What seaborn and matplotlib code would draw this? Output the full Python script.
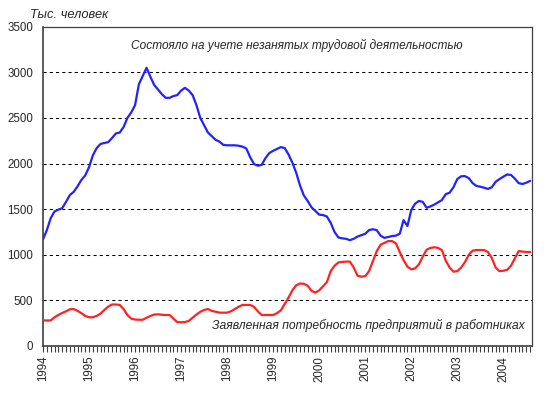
import numpy as np
import pandas as pd
import matplotlib
matplotlib.use("Agg")
import matplotlib.pyplot as plt
import seaborn as sns

years = list(range(1994, 2005))

unemployed = [
    1170, 1270, 1400, 1475, 1495, 1510, 1580, 1655, 1690, 1750, 1820, 1870,
    1960, 2090, 2170, 2215, 2225, 2235, 2280, 2330, 2340, 2400, 2500, 2560,
    2640, 2870, 2960, 3050, 2950, 2860, 2810, 2760, 2720, 2720, 2740, 2750,
    2800, 2830, 2800, 2750, 2640, 2500, 2420, 2340, 2300, 2260, 2240, 2205,
    2200, 2200, 2200, 2195, 2185, 2165, 2070, 1995, 1976, 1985, 2060, 2115,
    2140, 2160, 2180, 2170, 2100, 2010, 1900, 1760, 1650, 1590, 1520, 1480,
    1440, 1435, 1420, 1350, 1250, 1190, 1180, 1175, 1160, 1175, 1200, 1215,
    1230, 1270, 1280, 1270, 1210, 1185, 1195, 1205, 1210, 1230, 1380, 1315,
    1490, 1560, 1590, 1580, 1515, 1530, 1550, 1575, 1600, 1665, 1680, 1740,
    1830, 1860, 1862, 1840, 1785, 1755, 1746, 1735, 1722, 1740, 1800, 1830,
    1856, 1880, 1875, 1835, 1785, 1776, 1790, 1810,
]

vacancies = [
    280, 280, 280, 315, 340, 362, 380, 402, 405, 385, 360, 330,
    315, 315, 330, 355, 395, 432, 455, 455, 450, 405, 340, 300,
    290, 288, 288, 310, 330, 345, 347, 342, 340, 340, 300, 262,
    260, 262, 275, 310, 345, 375, 395, 405, 385, 375, 366, 365,
    366, 380, 405, 430, 450, 450, 450, 430, 380, 340, 340, 340,
    340, 360, 390, 460, 530, 610, 665, 685, 682, 660, 605, 585,
    610, 655, 700, 820, 880, 915, 922, 925, 925, 860, 770, 760,
    765, 820, 930, 1040, 1110, 1130, 1150, 1150, 1125, 1030, 940, 870,
    840, 850, 895, 980, 1055, 1075, 1082, 1075, 1050, 935, 860, 815,
    820, 860, 920, 1000, 1045, 1052, 1052, 1052, 1030, 965, 860, 820,
    825, 835, 880, 960, 1040, 1035, 1030, 1030,
]

label_unemp = "Состояло на учете незанятых трудовой деятельностью"
label_vac = "Заявленная потребность предприятий в работниках"
y_unit = "Тыс. человек"

n = len(unemployed)
df = pd.DataFrame({
    "month": list(range(n)) * 2,
    "value": unemployed + vacancies,
    "series": ["u"] * n + ["v"] * n,
})

sns.set_style("white")
plt.rcParams["font.family"] = ["Liberation Sans", "DejaVu Sans"]

fig = plt.figure(figsize=(5.46, 3.94), dpi=100)
ax = fig.add_axes([43 / 546, 1 - 346 / 394, (531.7 - 43) / 546, (346 - 26.7) / 394])

for y in range(500, 3500, 500):
    ax.axhline(y, color="black", lw=0.75, linestyle=(0, (3, 3)), zorder=1)

sns.lineplot(data=df, x="month", y="value", hue="series",
             palette={"u": "#2222ff", "v": "#ff2222"}, linewidth=1.6,
             legend=False, ax=ax, zorder=3)

ax.set_xlim(0, n - 0.6)
ax.set_ylim(0, 3500)
ax.set_yticks(range(0, 3501, 500))
ax.set_yticklabels([str(v) for v in range(0, 3501, 500)], fontsize=8.3)
ax.set_xticks([12 * i for i in range(len(years))])
ax.set_xticklabels([str(y) for y in years], rotation=90, fontsize=8.3)
ax.set_xticks(list(range(0, n)), minor=True)
ax.tick_params(axis="x", which="both", direction="out", length=4, width=0.8,
               color="#404040", pad=3, bottom=True)
ax.tick_params(axis="y", length=0, pad=7)
ax.set_xlabel("")
ax.set_ylabel("")

for s in ax.spines.values():
    s.set_color("#404040")
    s.set_linewidth(0.9)
ax.spines["left"].set_linewidth(1.2)
ax.spines["bottom"].set_linewidth(1.2)

fig.text(30 / 546, 1 - 15.5 / 394, y_unit, fontsize=9.3, style="italic",
         va="center", ha="left")
fig.text(131 / 546, 1 - 45 / 394, label_unemp, fontsize=8.55, style="italic",
         va="center", ha="left")
fig.text(212 / 546, 1 - 325 / 394, label_vac, fontsize=8.75, style="italic",
         va="center", ha="left")

fig.savefig("out.png", dpi=100)
